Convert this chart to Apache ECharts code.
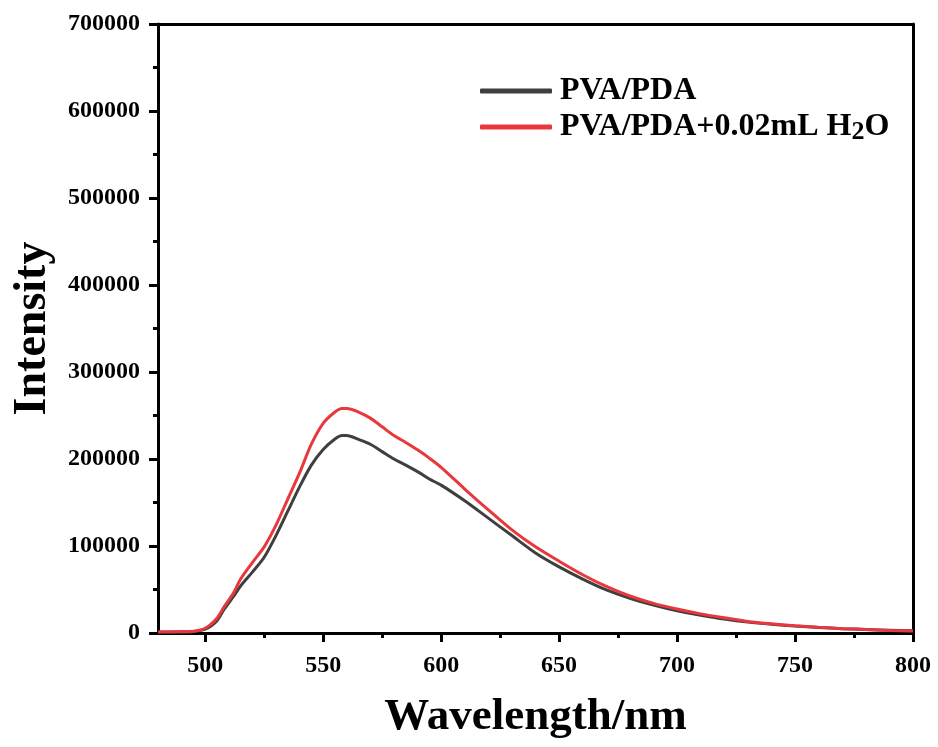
<!DOCTYPE html>
<html>
<head>
<meta charset="utf-8">
<script src="https://cdn.jsdelivr.net/npm/echarts@6/dist/echarts.min.js"></script>
<style>
html,body{margin:0;padding:0;background:#fff;}
#chart{width:938px;height:747px;}
</style>
</head>
<body>
<div id="chart"></div>
<script>
var wavelengths = [480,485,490,495,498,500,502,505,508,512,515,520,525,530,535,540,545,550,555,558,560,565,570,575,580,585,590,595,600,610,620,630,640,650,660,670,680,690,700,710,720,730,740,750,760,770,780,790,800];
var pvaPda = [800,800,900,1500,3000,4500,7200,14000,27000,42000,54000,70000,87000,112000,140000,168000,193000,211000,223000,227000,227000,222500,217000,208500,200000,193000,185500,177000,170000,152000,132000,112000,92000,76000,62000,49600,40000,32000,25500,20500,16000,12500,10000,8000,6300,5000,4000,3200,2500];
var pvaPdaH2O = [1500,1500,1600,2000,3500,5500,9000,17000,30000,46000,62000,81000,99000,124000,154000,184000,217000,241000,254000,258000,258000,254000,247000,237000,227000,219000,210500,201000,190500,165500,141500,118500,99000,82500,67000,53500,42500,34000,27500,22000,17500,13300,10500,8300,6500,5000,4000,3000,2300];
var seriesNames = ['PVA/PDA', 'PVA/PDA+0.02mL H2O'];
var xMajorTicks = [500,550,600,650,700,750,800];
var xMinorTicks = [525,575,625,675,725,775];
var yTicks = [0,100000,200000,300000,400000,500000,600000,700000];

var FONT = 'Liberation Serif';
function pairs(xs, ys){ return xs.map(function(x,i){ return [x, ys[i]]; }); }

var chart = echarts.init(document.getElementById('chart'), null, {renderer:'canvas'});
var axisLineStyle = {color:'#000', width:3};
chart.setOption({
  animation:false,
  backgroundColor:'#fff',
  grid:{left:158, right:25, top:24, bottom:114},
  legend:{
    orient:'vertical', left:480, top:73, itemGap:0, padding:0,
    itemWidth:72, itemHeight:5, icon:'roundRect',
    data: seriesNames,
    formatter:function(n){ return n.replace('H2O','H{sub|2}O'); },
    textStyle:{fontFamily:FONT, fontWeight:'bold', fontSize:32, color:'#000', lineHeight:36, padding:[0,0,0,3],
      rich:{sub:{fontFamily:FONT, fontWeight:'bold', fontSize:26, lineHeight:16, verticalAlign:'bottom', color:'#000'}}}
  },
  xAxis:[
    {type:'value', position:'bottom', min:480, max:800,
      name:'Wavelength/nm', nameLocation:'middle', nameGap:62,
      nameTextStyle:{fontFamily:FONT, fontWeight:'bold', fontSize:45, color:'#000'},
      axisLine:{show:true, onZero:false, lineStyle:axisLineStyle},
      axisTick:{show:true, inside:false, length:9, lineStyle:{color:'#000', width:3}, customValues:xMajorTicks},
      axisLabel:{show:true, margin:21, fontFamily:FONT, fontWeight:'bold', fontSize:24, color:'#000', customValues:xMajorTicks},
      splitLine:{show:false}},
    {type:'value', position:'bottom', min:480, max:800,
      axisLine:{show:false},
      axisTick:{show:true, inside:false, length:5, lineStyle:{color:'#000', width:3}, customValues:xMinorTicks},
      axisLabel:{show:false}, splitLine:{show:false}},
    {type:'value', position:'top', min:480, max:800,
      axisLine:{show:true, onZero:false, lineStyle:axisLineStyle},
      axisTick:{show:false}, axisLabel:{show:false}, splitLine:{show:false}}
  ],
  yAxis:[
    {type:'value', position:'left', min:0, max:700000, interval:100000,
      name:'Intensity', nameLocation:'middle', nameGap:102,
      nameTextStyle:{fontFamily:FONT, fontWeight:'bold', fontSize:46, color:'#000'},
      axisLine:{show:true, onZero:false, lineStyle:axisLineStyle},
      axisTick:{show:true, inside:false, length:9, lineStyle:{color:'#000', width:3}},
      minorTick:{show:true, splitNumber:2, length:5, lineStyle:{color:'#000', width:3}},
      axisLabel:{show:true, margin:18, fontFamily:FONT, fontWeight:'bold', fontSize:24, color:'#000',
        customValues:yTicks, formatter:function(v){ return String(v); }},
      splitLine:{show:false}},
    {type:'value', position:'right', min:0, max:700000,
      axisLine:{show:true, onZero:false, lineStyle:axisLineStyle},
      axisTick:{show:false}, axisLabel:{show:false}, splitLine:{show:false}}
  ],
  series:[
    {name:seriesNames[0], type:'line', xAxisIndex:0, yAxisIndex:0, data:pairs(wavelengths,pvaPda),
      showSymbol:false, smooth:0.3, color:'#3f3f3f', lineStyle:{width:3, color:'#3f3f3f'}, z:3},
    {name:seriesNames[1], type:'line', xAxisIndex:0, yAxisIndex:0, data:pairs(wavelengths,pvaPdaH2O),
      showSymbol:false, smooth:0.3, color:'#e8383d', lineStyle:{width:3, color:'#e8383d'}, z:4}
  ]
});
</script>
</body>
</html>
